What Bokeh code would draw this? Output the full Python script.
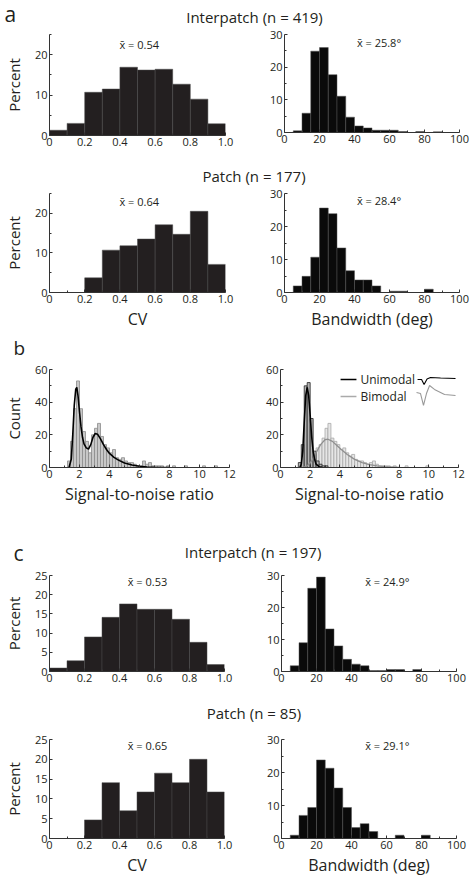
import numpy as np
from bokeh.plotting import figure
from bokeh.models import Range1d, FixedTicker, Label, ColumnDataSource
from bokeh.layouts import column, row
from bokeh.embed import file_html
from bokeh.resources import INLINE

FONT = "Open Sans"
TXT = "#231f20"

# ---------------- data ----------------
cv_edges = [0.0, 0.1, 0.2, 0.3, 0.4, 0.5, 0.6, 0.7, 0.8, 0.9, 1.0]
bw_edges = [0, 5, 10, 15, 20, 25, 30, 35, 40, 45, 50, 55, 60, 65, 70, 75, 80, 85, 90, 95, 100]

a_inter_cv = [1.3, 3.0, 10.7, 11.5, 16.9, 16.2, 16.4, 12.7, 9.0, 2.9]
a_inter_bw = [0, 0.5, 5.9, 24.9, 26.0, 17.7, 11.1, 4.7, 2.0, 1.4, 0.7, 0.7, 0.7, 0.3, 0, 0.3, 0, 0.2, 0, 0]
a_patch_cv = [0, 0, 3.7, 10.7, 11.8, 13.5, 17.1, 14.7, 20.5, 7.1]
a_patch_bw = [0, 2.0, 4.9, 10.7, 25.6, 23.9, 13.5, 6.6, 3.8, 3.8, 2.0, 0, 0.4, 0.4, 0, 0, 1.0, 0, 0, 0]

c_inter_cv = [0.9, 2.8, 9.0, 14.1, 17.6, 16.2, 16.2, 13.6, 7.6, 1.8]
c_inter_bw = [0, 1.8, 9.0, 26.0, 29.5, 13.3, 8.0, 3.8, 2.3, 1.8, 0.3, 0.3, 0.6, 0.6, 0, 0.6, 0, 0, 0, 0]
c_patch_cv = [0, 0, 4.7, 14.1, 7.0, 11.75, 16.5, 14.1, 20.0, 11.75]
c_patch_bw = [0, 1.0, 7.0, 9.4, 23.8, 21.3, 15.3, 9.4, 3.3, 4.5, 2.1, 0, 0, 1.0, 0, 0, 1.0, 0, 0, 0]

# signal-to-noise histograms, bins of 0.2 from 1.2 to 12.0
snr_edges = np.round(np.arange(1.2, 12.01, 0.2), 2)
snr_all = [4, 16, 36, 53, 36, 22, 16, 9, 20, 24, 27, 19, 14, 12, 9, 11, 6, 5, 6, 4,
           3, 3, 2, 1, 1, 4, 2, 3, 1, 1, 1, 1, 0, 1,
           0, 1, 0, 0, 0, 1, 0, 0, 0, 0, 0, 1, 0, 0, 0, 1, 0, 0, 0, 0]
snr_uni = [3, 14, 50, 52, 30, 10, 4, 2, 1, 1, 0, 0, 0, 0, 0, 0, 0, 0, 0, 0,
           0, 0, 0, 0, 0, 0, 0, 0, 0, 0, 0, 0, 0, 0,
           0, 0, 0, 0, 0, 0, 0, 0, 0, 0, 0, 0, 0, 0, 0, 0, 0, 0, 0, 0]
snr_bi = [0, 0, 2, 3, 5, 8, 12, 14, 18, 24, 27, 18, 16, 14, 11, 12, 9, 7, 8, 5,
          4, 4, 3, 2, 3, 4, 2, 1, 1, 1, 1, 0, 1, 0,
          0, 0, 1, 0, 0, 0, 0, 0, 0, 1, 0, 0, 0, 0, 0, 0, 0, 0, 0, 0]

# fitted curves
fit_all_x = [1.3, 1.45, 1.55, 1.65, 1.75, 1.82, 1.9, 2.0, 2.1, 2.2, 2.3, 2.45, 2.6, 2.75,
             2.9, 3.05, 3.2, 3.4, 3.6, 3.8, 4.0, 4.3, 4.6, 5.0, 5.5, 6.0, 6.5, 7.0, 8.0]
fit_all_y = [0, 5, 20, 38, 48, 49, 44, 34, 25, 18.5, 14.5, 12, 11.3, 14, 18.5, 20.8, 20.4,
             17.5, 14, 11, 8.6, 6.2, 4.5, 2.7, 1.5, 0.8, 0.35, 0.15, 0]
fit_uni_x = [1.3, 1.4, 1.5, 1.6, 1.7, 1.8, 1.9, 2.0, 2.1, 2.2, 2.3, 2.4, 2.6, 2.8]
fit_uni_y = [0, 2, 10, 28, 44, 49, 44, 32, 19, 10, 5, 2, 0.5, 0]
fit_bi_x = [1.5, 1.8, 2.1, 2.4, 2.7, 3.0, 3.2, 3.5, 3.8, 4.1, 4.5, 5.0, 5.5, 6.0, 6.5, 7.0, 8.0]
fit_bi_y = [0, 1, 4, 9, 14, 17, 17.3, 16, 13.5, 11, 8, 5, 3, 1.8, 1, 0.5, 0.1]

# legend waveform icons (in the SNR axes' units)
wave_uni_x = [9.24, 9.51, 9.68, 9.88, 10.11, 10.79, 11.8]
wave_uni_y = [53.9, 53.9, 50.8, 54.2, 55.1, 54.8, 54.5]
wave_bi_x = [9.17, 9.44, 9.64, 9.84, 10.05, 10.38, 11.06, 11.8]
wave_bi_y = [45.9, 45.3, 38.0, 45.3, 50.2, 47.8, 44.7, 44.1]

cv_ticks = [0, 0.2, 0.4, 0.6, 0.8, 1.0]
cv_minor = [0.1, 0.3, 0.5, 0.7, 0.9]
bw_ticks = [0, 20, 40, 60, 80, 100]
bw_minor = [10, 30, 50, 70, 90]
snr_ticks = [0, 2, 4, 6, 8, 10, 12]
snr_minor = [1, 3, 5, 7, 9, 11]
count_ticks = [0, 20, 40, 60]
count_minor = [10, 30, 50]


# ---------------- helpers ----------------
def mkfig(fw, fh, bl, br, bt, bb, xr, yr):
    p = figure(frame_width=fw, frame_height=fh,
               min_border_left=bl, min_border_right=br,
               min_border_top=bt, min_border_bottom=bb,
               x_range=Range1d(*xr), y_range=Range1d(*yr),
               toolbar_location=None, tools="", output_backend="svg")
    p.outline_line_color = None
    p.grid.visible = False
    for ax in (p.xaxis[0], p.yaxis[0]):
        ax.axis_line_color = "#333333"
        ax.axis_line_width = 1
        ax.major_tick_line_color = "#333333"
        ax.minor_tick_line_color = "#333333"
        ax.major_tick_in = 3
        ax.major_tick_out = 0
        ax.minor_tick_in = 2
        ax.minor_tick_out = 0
        ax.major_label_text_font = FONT
        ax.major_label_text_font_size = "11px"
        ax.major_label_text_color = TXT
        ax.major_label_standoff = 2
        ax.axis_label_text_font = FONT
        ax.axis_label_text_font_style = "normal"
        ax.axis_label_text_color = TXT
        ax.axis_label_standoff = 2
    p.yaxis[0].axis_label_standoff = 8
    return p


def set_ticks(p, xt, xm, yt, ym):
    p.xaxis[0].ticker = FixedTicker(ticks=xt, minor_ticks=xm)
    p.yaxis[0].ticker = FixedTicker(ticks=yt, minor_ticks=ym)


def hist(p, edges, vals, fill, line, lw=0.6):
    src = ColumnDataSource(dict(left=list(edges[:-1]), right=list(edges[1:]),
                                top=list(vals), bottom=[0] * len(vals)))
    p.quad(left="left", right="right", top="top", bottom="bottom", source=src,
           fill_color=fill, line_color=line, line_width=lw)


def mean_label(p, x, y, txt):
    p.add_layout(Label(x=x, y=y, text=txt, text_font=FONT, text_font_size="11px",
                       text_color=TXT, text_align="center", text_baseline="middle"))


def title_fig(w, h, items):
    p = figure(width=w, height=h, x_range=Range1d(0, w), y_range=Range1d(0, h),
               toolbar_location=None, tools="", output_backend="svg",
               min_border=0, x_axis_type=None, y_axis_type=None)
    p.outline_line_color = None
    p.grid.visible = False
    for x, y, txt, size, align in items:
        p.add_layout(Label(x=x, y=y, text=txt, text_font=FONT, text_font_size=size,
                           text_color=TXT, text_align=align, text_baseline="middle"))
    return p


def cv_fig(vals, fw, fh, bl, br, bt, bb, ylab, ymax, yt, ym, xlab=None):
    p = mkfig(fw, fh, bl, br, bt, bb, (0, 1), (0, ymax))
    hist(p, cv_edges, vals, "#231f20", "#4a4a4a", 0.5)
    set_ticks(p, cv_ticks, cv_minor, yt, ym)
    p.xaxis[0].major_label_overrides = {0: "0", 1: "1.0"}
    p.yaxis[0].axis_label = ylab
    p.yaxis[0].axis_label_text_font_size = "15px"
    if xlab:
        p.xaxis[0].axis_label = xlab
        p.xaxis[0].axis_label_text_font_size = "16px"
    return p


def bw_fig(vals, fw, fh, bl, br, bt, bb, xlab=None):
    p = mkfig(fw, fh, bl, br, bt, bb, (0, 100), (0, 30))
    hist(p, bw_edges, vals, "#0a0a0a", "#555555", 0.5)
    set_ticks(p, bw_ticks, bw_minor, [0, 10, 20, 30], [5, 15, 25])
    if xlab:
        p.xaxis[0].axis_label = xlab
        p.xaxis[0].axis_label_text_font_size = "16px"
    return p


W = 474

# ---------------- panel a ----------------
t1 = title_fig(W, 27, [(4, 14, "a", "21px", "left"),
                       (254, 11, "Interpatch (n = 419)", "15px", "center")])
a1L = cv_fig(a_inter_cv, 176, 101, 48, 16, 5, 24, "Percent", 25, [0, 10, 20], [5, 15, 25])
mean_label(a1L, 0.51, 22.5, "x\u0304 = 0.54")
a1R = bw_fig(a_inter_bw, 175, 98, 43, 16, 7, 25)
mean_label(a1R, 54, 27.6, "x\u0304 = 25.8\u00b0")

t2 = title_fig(W, 30, [(253.5, 12, "Patch (n = 177)", "15px", "center")])
a2L = cv_fig(a_patch_cv, 176, 99, 48, 16, 6, 41, "Percent", 25, [0, 10, 20], [5, 15, 25], xlab="CV")
mean_label(a2L, 0.51, 23.0, "x\u0304 = 0.64")
a2R = bw_fig(a_patch_bw, 175, 99, 43, 16, 6, 41, xlab="Bandwidth (deg)")
mean_label(a2R, 54, 27.9, "x\u0304 = 28.4\u00b0")

# ---------------- panel b ----------------
tb = title_fig(W, 28, [(13, 13.5, "b", "19px", "left")])

bL = mkfig(180, 98, 49, 11, 8, 41, (0, 12), (0, 60))
hist(bL, snr_edges, snr_all, "#c8c8c8", "#8c8c8c", 0.8)
bL.line(fit_all_x, fit_all_y, line_color="#000000", line_width=1.6)
set_ticks(bL, snr_ticks, snr_minor, count_ticks, count_minor)
bL.yaxis[0].axis_label = "Count"
bL.yaxis[0].axis_label_text_font_size = "15px"
bL.xaxis[0].axis_label = "Signal-to-noise ratio"
bL.xaxis[0].axis_label_text_font_size = "16px"

bR = mkfig(178, 98, 40, 16, 8, 41, (0, 12), (0, 60))
hist(bR, snr_edges, snr_bi, "#e6e6e6", "#a8a8a8", 0.8)
hist(bR, snr_edges, snr_uni, "#b4b4b4", "#222222", 0.8)
bR.line(fit_bi_x, fit_bi_y, line_color="#8f8f8f", line_width=1.3)
bR.line(fit_uni_x, fit_uni_y, line_color="#000000", line_width=1.6)
set_ticks(bR, snr_ticks, snr_minor, count_ticks, count_minor)
bR.xaxis[0].axis_label = "Signal-to-noise ratio"
bR.xaxis[0].axis_label_text_font_size = "16px"
# legend
bR.line([4.05, 5.12], [53.9, 53.9], line_color="#000000", line_width=1.4)
bR.line([4.05, 5.12], [43.5, 43.5], line_color="#aaaaaa", line_width=1.4)
bR.add_layout(Label(x=5.39, y=53.9, text="Unimodal", text_font=FONT, text_font_size="12px",
                    text_color=TXT, text_baseline="middle"))
bR.add_layout(Label(x=5.39, y=43.5, text="Bimodal", text_font=FONT, text_font_size="12px",
                    text_color=TXT, text_baseline="middle"))
bR.line(wave_uni_x, wave_uni_y, line_color="#000000", line_width=1.1)
bR.line(wave_bi_x, wave_bi_y, line_color="#999999", line_width=1.1)

# ---------------- panel c ----------------
t3 = title_fig(W, 61, [(13, 16.5, "c", "21px", "left"),
                       (254.5, 18, "Interpatch  (n = 197)", "15px", "center")])
c1L = cv_fig(c_inter_cv, 175, 96, 49, 16, 6, 30, "Percent", 25, [0, 5, 10, 15, 20, 25], [])
mean_label(c1L, 0.56, 23.4, "x\u0304 = 0.53")
c1R = bw_fig(c_inter_bw, 175, 96, 41, 18, 6, 30)
mean_label(c1R, 60.5, 28.1, "x\u0304 = 24.9\u00b0")

t4 = title_fig(W, 32, [(253.5, 20.5, "Patch (n = 85)", "15px", "center")])
c2L = cv_fig(c_patch_cv, 175, 99, 49, 16, 6, 41, "Percent", 25, [0, 5, 10, 15, 20, 25], [], xlab="CV")
mean_label(c2L, 0.56, 23.5, "x\u0304 = 0.65")
c2R = bw_fig(c_patch_bw, 175, 99, 41, 18, 6, 41, xlab="Bandwidth (deg)")
mean_label(c2R, 60.5, 28.2, "x\u0304 = 29.1\u00b0")

layout = column(t1, row(a1L, a1R), t2, row(a2L, a2R), tb, row(bL, bR),
                t3, row(c1L, c1R), t4, row(c2L, c2R))

open("out.html", "w").write(file_html(layout, INLINE))
